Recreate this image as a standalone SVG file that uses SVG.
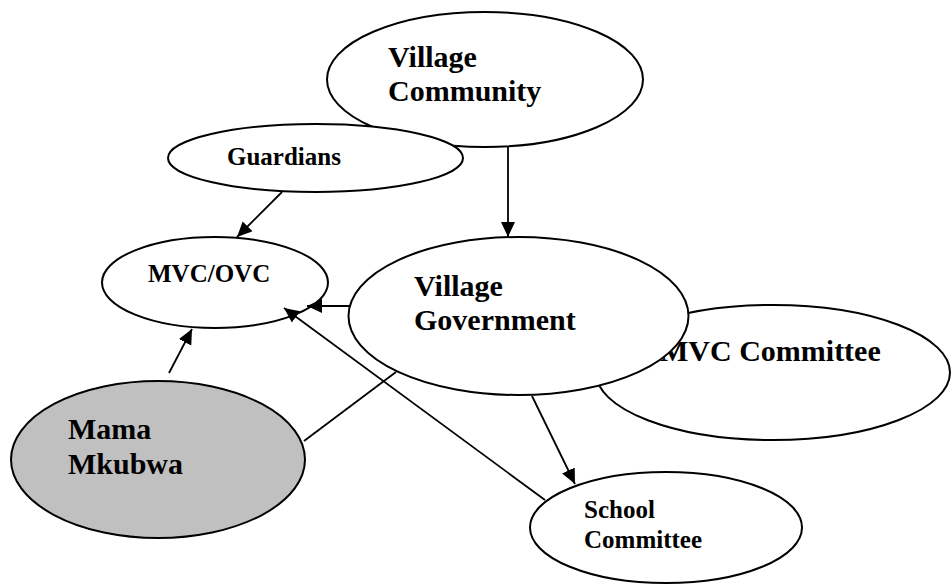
<svg xmlns="http://www.w3.org/2000/svg" width="951" height="584" viewBox="0 0 951 584">
<style>
  .node { fill: #ffffff; stroke: #000000; stroke-width: 2; }
  .grey { fill: #c0c0c0; }
  .lbl { font-family: "Liberation Serif", "Times New Roman", serif; font-weight: bold; fill: #000000; }
  .big { font-size: 30px; }
  .small { font-size: 25px; }
  .edge { stroke: #000000; stroke-width: 1.8; fill: none; }
  .arrow { marker-end: url(#ah); }
</style>
<defs>
  <marker id="ah" markerUnits="userSpaceOnUse" markerWidth="17" markerHeight="15" refX="15" refY="7" orient="auto">
    <path d="M0,0 L15,7 L0,14 z" fill="#000000"/>
  </marker>
</defs>
<rect width="951" height="584" fill="#ffffff"/>
<g id="village-community">
  <ellipse class="node" cx="485" cy="79.5" rx="158" ry="67.5"/>
  <text class="lbl big" x="388" y="67">Village</text>
  <text class="lbl big" x="388" y="101">Community</text>
</g>
<g id="guardians">
  <ellipse class="node" cx="315.5" cy="158" rx="147.5" ry="34"/>
  <text class="lbl small" x="227" y="165">Guardians</text>
</g>
<g id="mvc-committee">
  <ellipse class="node" cx="773" cy="372.5" rx="177" ry="67.5"/>
  <text class="lbl big" x="660" y="361">MVC Committee</text>
</g>
<g id="village-government">
  <ellipse class="node" cx="518.5" cy="316" rx="170" ry="79"/>
  <text class="lbl big" x="414" y="296">Village</text>
  <text class="lbl big" x="414" y="330">Government</text>
</g>
<g id="mvc-ovc">
  <ellipse class="node" cx="215" cy="282.5" rx="113" ry="45.5"/>
  <text class="lbl small" x="148" y="282">MVC/OVC</text>
</g>
<g id="mama-mkubwa">
  <ellipse class="node grey" cx="158" cy="459.5" rx="147" ry="78.5"/>
  <text class="lbl big" x="68" y="439">Mama</text>
  <text class="lbl big" x="68" y="474">Mkubwa</text>
</g>
<g id="school-committee">
  <ellipse class="node" cx="666" cy="527.5" rx="136" ry="55.5"/>
  <text class="lbl small" x="584" y="518">School</text>
  <text class="lbl small" x="584" y="548">Committee</text>
</g>
<g id="connectors">
  <line class="edge arrow" x1="508" y1="147" x2="508" y2="237"/>
  <line class="edge arrow" x1="282" y1="192" x2="237" y2="237"/>
  <line class="edge arrow" x1="350" y1="306" x2="307" y2="306"/>
  <line class="edge arrow" x1="545" y1="500" x2="284" y2="308"/>
  <line class="edge arrow" x1="169" y1="373" x2="192" y2="329"/>
  <line class="edge" x1="304" y1="441" x2="396" y2="372"/>
  <line class="edge arrow" x1="532" y1="396" x2="575" y2="484"/>
</g>
</svg>
